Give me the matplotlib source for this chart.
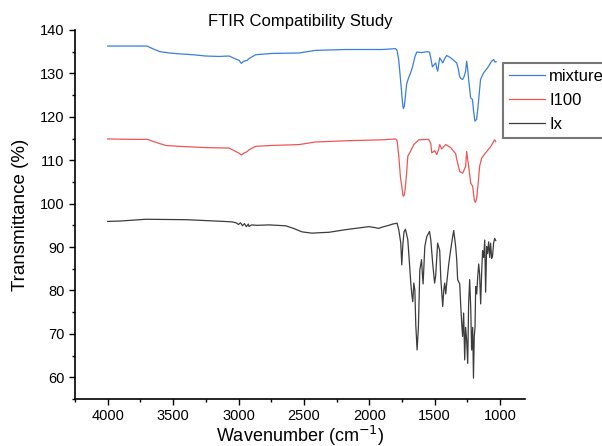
import matplotlib
matplotlib.use("Agg")
import matplotlib.pyplot as plt
from matplotlib.ticker import MultipleLocator

plt.rcParams['font.family'] = ['Liberation Sans', 'DejaVu Sans']

# mixture spectrum (wavenumber, transmittance)
mix_wn = [4000, 3700, 3650, 3600, 3530, 3454, 3350, 3250, 3150, 3072,
          3021, 2995, 2979, 2960, 2933, 2920, 2869, 2742, 2538, 2411,
          2182, 1902, 1800, 1788, 1775, 1760, 1750, 1744, 1739, 1733,
          1727, 1715, 1700, 1685, 1670, 1650, 1637, 1600, 1560, 1540,
          1530, 1518, 1505, 1492, 1485, 1477, 1470, 1462, 1450, 1439,
          1420, 1409, 1395, 1378, 1355, 1332, 1320, 1310, 1300, 1287,
          1275, 1264, 1256, 1248, 1241, 1233, 1226, 1212, 1203, 1193,
          1180, 1170, 1157, 1150, 1127, 1096, 1065, 1050, 1040, 1030]
mix_t = [136.3, 136.3, 135.6, 135.0, 134.7, 134.5, 134.3, 134.0, 133.9, 134.0,
         133.3, 133.0, 132.3, 132.8, 133.0, 133.4, 134.3, 134.6, 134.7, 135.3,
         135.5, 135.5, 135.7, 135.3, 133.0, 128.0, 124.5, 122.5, 121.9, 122.4,
         124.0, 127.5, 129.0, 130.1, 131.5, 134.0, 134.9, 134.8, 135.0, 134.9,
         133.5, 131.5, 132.0, 132.4, 131.2, 130.5, 132.0, 133.6, 133.0, 132.4,
         133.6, 134.1, 133.9, 133.6, 133.0, 132.4, 131.0, 129.3, 128.8, 128.6,
         129.3, 130.5, 132.8, 131.0, 128.6, 126.5, 124.4, 124.0, 121.3, 119.0,
         119.4, 122.1, 126.3, 128.6, 130.1, 131.3, 132.8, 133.2, 132.6, 132.7]

# I100 spectrum
i100_wn = [4000, 3800, 3696, 3620, 3556, 3454, 3250, 3072, 3021, 2995,
           2979, 2960, 2933, 2920, 2869, 2742, 2538, 2411, 2157, 1900,
           1800, 1788, 1775, 1762, 1752, 1744, 1739, 1733, 1727, 1715,
           1706, 1691, 1660, 1622, 1546, 1530, 1523, 1508, 1501, 1485,
           1470, 1462, 1447, 1416, 1378, 1340, 1332, 1309, 1287, 1275,
           1264, 1256, 1241, 1225, 1210, 1198, 1190, 1179, 1168, 1157,
           1141, 1111, 1073, 1042, 1034]
i100_t = [114.9, 114.8, 114.8, 114.0, 113.4, 113.2, 112.9, 112.8, 112.0, 111.6,
          111.2, 111.6, 112.0, 112.4, 113.2, 113.4, 113.6, 114.2, 114.5, 114.7,
          114.9, 114.5, 111.0, 106.0, 104.0, 102.0, 101.7, 102.0, 103.2, 107.0,
          110.9, 111.7, 113.6, 114.7, 114.8, 113.8, 111.7, 112.0, 112.2, 111.3,
          112.5, 113.6, 112.6, 113.6, 112.9, 111.5, 110.2, 107.4, 107.0, 107.8,
          108.6, 112.0, 108.6, 104.7, 104.0, 100.9, 100.3, 101.2, 104.7, 108.6,
          110.5, 111.7, 113.1, 114.7, 114.3]

# Ix spectrum
ix_wn = [4000, 3900, 3708, 3400, 3111, 3050, 3020, 3000, 2985, 2970,
         2955, 2940, 2925, 2920, 2900, 2860, 2767, 2640, 2580, 2515,
         2439, 2380, 2309, 2182, 2004, 1960, 1928, 1900, 1851, 1820,
         1788, 1775, 1760, 1752, 1744, 1735, 1724, 1706, 1695, 1683,
         1675, 1668, 1660, 1652, 1645, 1635, 1625, 1614, 1601, 1595,
         1589, 1576, 1561, 1540, 1530, 1516, 1501, 1493, 1478, 1462,
         1454, 1439, 1431, 1424, 1416, 1409, 1393, 1378, 1363, 1355,
         1340, 1332, 1325, 1309, 1302, 1294, 1287, 1279, 1271, 1264,
         1256, 1248, 1241, 1233, 1225, 1218, 1210, 1204, 1198, 1192,
         1187, 1179, 1172, 1164, 1157, 1149, 1141, 1134, 1126, 1118,
         1111, 1103, 1096, 1088, 1080, 1073, 1065, 1058, 1050, 1042,
         1034]
ix_t = [95.9, 96.0, 96.4, 96.3, 95.9, 95.8, 95.6, 95.2, 95.6, 94.9,
        95.4, 94.7, 95.3, 94.75, 95.1, 95.0, 95.1, 94.9, 94.3, 93.5,
        93.2, 93.3, 93.4, 94.0, 94.7, 94.5, 94.3, 94.6, 95.0, 95.3,
        95.5, 94.0, 91.0, 85.9, 90.5, 93.5, 94.1, 91.7, 87.0, 81.7,
        79.0, 77.4, 81.7, 80.1, 72.1, 66.3, 71.5, 84.7, 87.1, 84.0,
        81.5, 90.1, 92.4, 93.6, 91.6, 86.3, 81.7, 83.3, 90.9, 89.2,
        82.9, 76.3, 80.1, 81.7, 79.2, 81.5, 86.1, 89.4, 92.4, 93.8,
        90.1, 87.1, 82.5, 81.5, 76.9, 72.5, 69.4, 74.8, 64.0, 71.5,
        68.5, 63.2, 76.9, 82.5, 76.1, 66.3, 71.5, 59.8, 69.4, 71.5,
        80.9, 79.2, 82.9, 86.1, 83.8, 76.9, 84.5, 89.2, 87.6, 91.6,
        79.6, 90.1, 88.5, 91.2, 87.6, 90.9, 87.4, 88.0, 90.9, 92.0,
        91.5]

labels = ["mixture", "I100", "Ix"]
colors = ["#3a7ee0", "#f05555", "#3c3c3c"]

fig = plt.figure(figsize=(6.02, 4.46), dpi=100)
ax = fig.add_axes([0.1246, 0.1054, 0.7475, 0.8274])

ax.plot(mix_wn, mix_t, color=colors[0], lw=0.9, label=labels[0])
ax.plot(i100_wn, i100_t, color=colors[1], lw=0.9, label=labels[1])
ax.plot(ix_wn, ix_t, color=colors[2], lw=0.9, label=labels[2])

ax.set_xlim(4250, 810)
ax.set_ylim(55, 140)
ax.xaxis.set_major_locator(MultipleLocator(500))
ax.xaxis.set_minor_locator(MultipleLocator(250))
ax.yaxis.set_major_locator(MultipleLocator(10))
ax.yaxis.set_minor_locator(MultipleLocator(5))
ax.tick_params(which='major', direction='out', length=4, width=1, labelsize=10.5)
ax.tick_params(which='minor', direction='out', length=2.5, width=1)
ax.spines['top'].set_visible(False)
ax.spines['right'].set_visible(False)
ax.spines['left'].set_linewidth(1.2)
ax.spines['bottom'].set_linewidth(1.2)

ax.set_title("FTIR Compatibility Study", fontsize=12, pad=3)
ax.set_xlabel("Wavenumber (cm$^{-1}$)", fontsize=13, labelpad=0)
ax.set_ylabel("Transmittance (%)", fontsize=13.5, labelpad=8)

leg = fig.legend(loc='upper left', bbox_to_anchor=(502.7 / 602, 1 - 62.7 / 446),
                 fontsize=12, frameon=True, fancybox=False, borderaxespad=0,
                 borderpad=0.35, labelspacing=0.55, handlelength=2.2,
                 handletextpad=0.25)
leg.get_frame().set_edgecolor('#555555')
leg.get_frame().set_linewidth(1.5)

fig.savefig("out.png", dpi=100)
